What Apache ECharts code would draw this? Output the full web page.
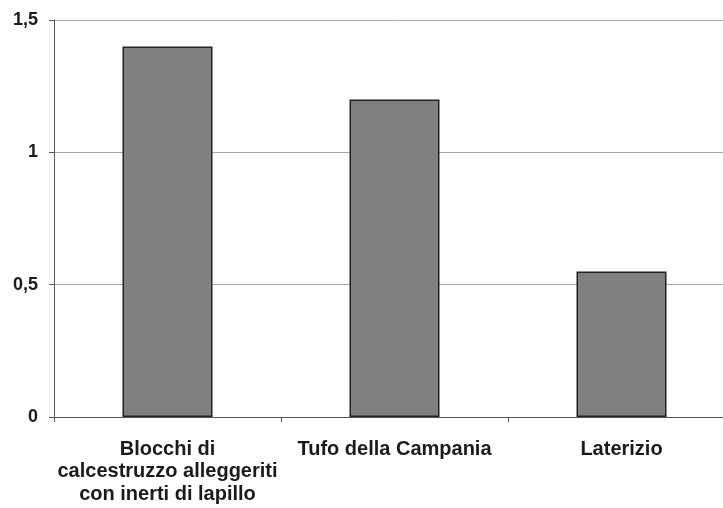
<!DOCTYPE html>
<html><head><meta charset="utf-8">
<script src="https://cdn.jsdelivr.net/npm/echarts@6/dist/echarts.min.js"></script>
<style>html,body{margin:0;padding:0;background:#fff;overflow:hidden}#c{width:735px;height:508px}</style>
</head><body><div id="c"></div>
<script>
const categories = ["Blocchi di\ncalcestruzzo alleggeriti\ncon inerti di lapillo", "Tufo della Campania", "Laterizio"];
const values = [1.4, 1.2, 0.55];
const yTicks = [0, 0.5, 1, 1.5];

const chart = echarts.init(document.getElementById('c'));
chart.setOption({
  animation: false,
  backgroundColor: '#ffffff',
  grid: {left: 54, right: 0, top: 20, bottom: 91, containLabel: false},
  xAxis: {
    type: 'category', data: categories,
    axisLine: {lineStyle: {color: '#555', width: 1}},
    axisTick: {show: true, alignWithLabel: false, length: 5, lineStyle: {color: '#555'}},
    axisLabel: {interval: 0, margin: 21, color: '#1a1a1a', fontFamily: 'Liberation Sans, Arial, sans-serif', fontWeight: 'bold', fontSize: 20, lineHeight: 22.5}
  },
  yAxis: {
    type: 'value', min: 0, max: 1.5, interval: 0.5,
    axisLine: {show: true, lineStyle: {color: '#555', width: 1}},
    axisTick: {show: true, length: 5, lineStyle: {color: '#555'}},
    splitLine: {show: true, lineStyle: {color: '#a8a8a8', width: 1}},
    axisLabel: {margin: 16, color: '#1a1a1a', fontFamily: 'Liberation Sans, Arial, sans-serif', fontWeight: 'bold', fontSize: 18,
      formatter: v => yTicks.includes(v) ? String(v).replace('.', ',') : ''}
  },
  series: [{
    type: 'bar', data: values, barWidth: 90,
    itemStyle: {color: '#808080', borderColor: '#222', borderWidth: 1.5}
  }]
});
</script></body></html>
